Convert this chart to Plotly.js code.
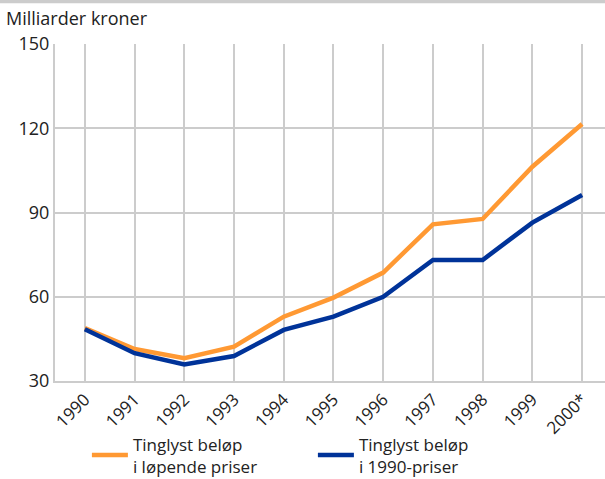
<!DOCTYPE html>
<html><head><meta charset="utf-8">
<script src="https://cdn.plot.ly/plotly-3.0.1.min.js"></script>
<style>html,body{margin:0;padding:0;background:#fff}</style>
</head><body>
<div id="chart" style="width:605px;height:479px"></div>
<script>
const years = ["1990","1991","1992","1993","1994","1995","1996","1997","1998","1999","2000*"];
const lopende = [48.8, 41.4, 38.1, 42.2, 52.9, 59.7, 68.6, 85.8, 87.7, 106.3, 121.5];
const faste1990 = [48.4, 39.9, 35.9, 38.9, 48.2, 52.9, 60.0, 73.1, 73.1, 86.4, 96.2];
const seriesNames = ["Tinglyst beløp<br>i løpende priser", "Tinglyst beløp<br>i 1990-priser"];
const yTicks = [30, 60, 90, 120, 150];

const font = "Open Sans, Noto Sans, sans-serif";
const data = [
  {x: years, y: lopende, type: "scatter", mode: "lines", name: seriesNames[0],
   line: {color: "#ff9933", width: 4.5}},
  {x: years, y: faste1990, type: "scatter", mode: "lines", name: seriesNames[1],
   line: {color: "#003399", width: 4.5}}
];
const layout = {
  width: 605, height: 479,
  margin: {l: 55, r: 0, t: 44, b: 98, autoexpand: false},
  paper_bgcolor: "#fff", plot_bgcolor: "#fff",
  font: {family: font, size: 18, color: "#222"},
  showlegend: true,
  legend: {orientation: "h", x: 0.058, xanchor: "left", y: -0.135, yanchor: "top",
           entrywidth: 175, entrywidthmode: "pixels", itemwidth: 36,
           font: {family: font, size: 17, color: "#222"}, traceorder: "normal"},
  xaxis: {type: "category", range: [-0.6, 10.46], tickangle: -45,
          showgrid: true, gridcolor: "#cccccc", gridwidth: 2,
          showline: true, linecolor: "#cccccc", linewidth: 2,
          ticks: "", tickfont: {family: font, size: 17, color: "#222"}, fixedrange: true},
  yaxis: {range: [30, 150], tickvals: yTicks, ticktext: yTicks.map(String),
          showgrid: true, gridcolor: "#cccccc", gridwidth: 2,
          showline: true, linecolor: "#cccccc", linewidth: 2, zeroline: false,
          ticks: "", tickfont: {family: font, size: 18, color: "#222"}, fixedrange: true},
  shapes: [{type: "rect", xref: "paper", yref: "paper", x0: -0.1, x1: 1.0,
            y0: 1.121, y1: 1.15, line: {width: 0}, fillcolor: "#cccccc", layer: "above"}],
  annotations: [{text: "Milliarder kroner", xref: "paper", yref: "paper",
                 x: -0.092, y: 1.0, yshift: 40, xanchor: "left", yanchor: "top", showarrow: false,
                 font: {family: font, size: 18, color: "#222"}}]
};
Plotly.newPlot("chart", data, layout, {displayModeBar: false, staticPlot: true});
</script>
</body></html>
